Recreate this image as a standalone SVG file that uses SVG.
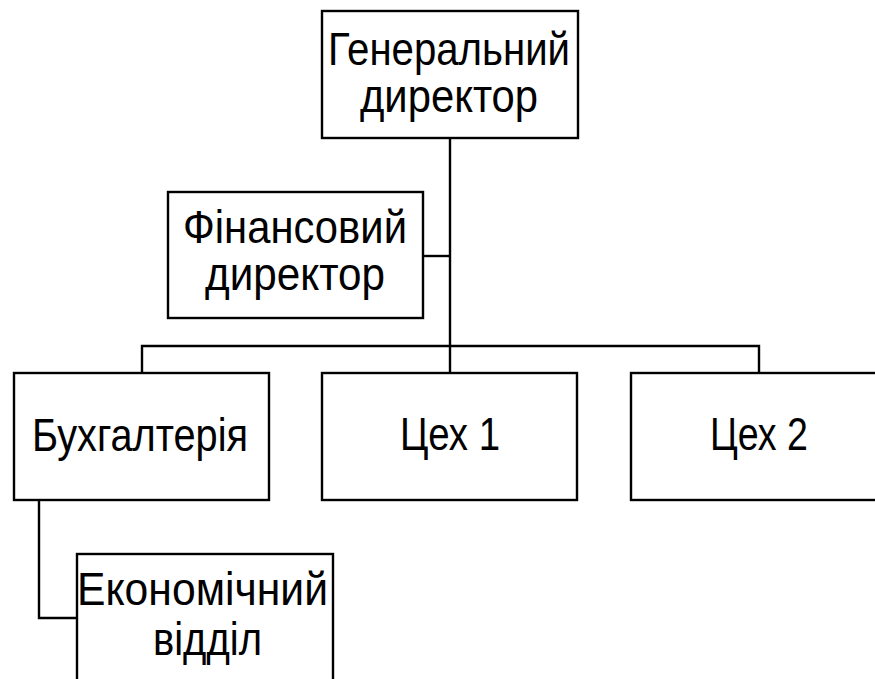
<svg xmlns="http://www.w3.org/2000/svg" width="875" height="679" viewBox="0 0 875 679">
<style>
.box{fill:#fff;stroke:#000;stroke-width:2.4}
.ln{fill:none;stroke:#000;stroke-width:2.4}
text{font-family:"Liberation Sans",Arial,sans-serif;font-size:46px;fill:#000;text-anchor:middle}
</style>
<rect width="875" height="679" fill="#fff"/>
<g id="connectors">
<path class="ln" d="M450,138 V373"/>
<path class="ln" d="M423,256 H450"/>
<path class="ln" d="M142,373 V346 H759 V373"/>
<path class="ln" d="M39,500 V618 H77"/>
</g>
<g id="gen">
<rect class="box" x="322" y="11" width="256" height="127"/>
<text x="449" y="65" textLength="242" lengthAdjust="spacingAndGlyphs">Генеральний</text>
<text x="449" y="112" textLength="178" lengthAdjust="spacingAndGlyphs">директор</text>
</g>
<g id="fin">
<rect class="box" x="168" y="192" width="255" height="126"/>
<text x="295" y="243" textLength="224" lengthAdjust="spacingAndGlyphs">Фінансовий</text>
<text x="295" y="290" textLength="180" lengthAdjust="spacingAndGlyphs">директор</text>
</g>
<g id="buh">
<rect class="box" x="14" y="373" width="255" height="127"/>
<text x="140" y="451" textLength="216" lengthAdjust="spacingAndGlyphs">Бухгалтерія</text>
</g>
<g id="ceh1">
<rect class="box" x="322" y="373" width="255" height="127"/>
<text x="450" y="450" textLength="100" lengthAdjust="spacingAndGlyphs">Цех 1</text>
</g>
<g id="ceh2">
<rect class="box" x="631" y="373" width="255" height="127"/>
<text x="759" y="450" textLength="98" lengthAdjust="spacingAndGlyphs">Цех 2</text>
</g>
<g id="econ">
<rect class="box" x="77" y="554" width="256" height="127"/>
<text x="202.5" y="605" textLength="251" lengthAdjust="spacingAndGlyphs">Економічний</text>
<text x="207.5" y="655" textLength="109" lengthAdjust="spacingAndGlyphs">відділ</text>
</g>
</svg>
